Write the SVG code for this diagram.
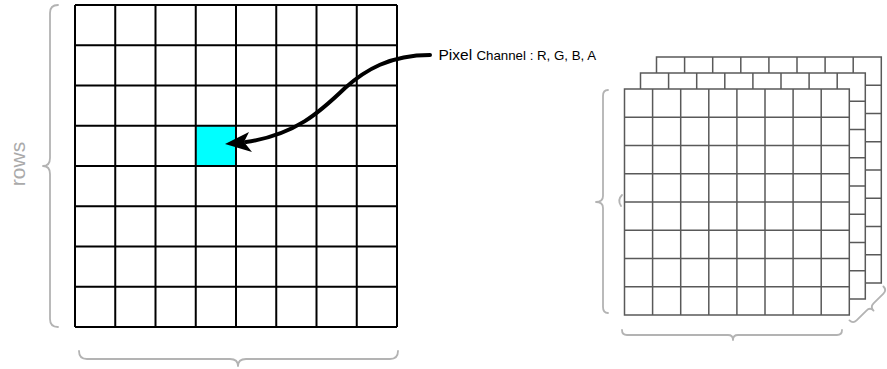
<svg xmlns="http://www.w3.org/2000/svg" width="887" height="369" viewBox="0 0 887 369">
<style>
.grid{fill:none;stroke:#000;stroke-width:2}
.sgrid{fill:#fff;stroke:#595959;stroke-width:1.5}
.brace{fill:none;stroke:#b3b3b3;stroke-width:1.8;stroke-linecap:round;stroke-linejoin:round}
.lbl{font-family:"Liberation Sans",Arial,sans-serif;fill:#000}
</style>
<rect width="887" height="369" fill="#fff"/>
<g id="pixel-grid">
<rect x="195.75" y="125.75" width="40.25" height="40.25" fill="#00ffff"/>
<path class="grid" d="M75,5V327M115.25,5V327M155.5,5V327M195.75,5V327M236,5V327M276.25,5V327M316.5,5V327M356.75,5V327M397,5V327M75,5H397M75,45.25H397M75,85.5H397M75,125.75H397M75,166H397M75,206.25H397M75,246.5H397M75,286.75H397M75,327H397"/>
</g>
<g id="rows-brace">
<path class="brace" d="M58,5Q50,5 50,13V158Q50,166 43,166Q50,166 50,174V319Q50,327 58,327"/>
<text transform="translate(25,164) rotate(-90)" text-anchor="middle" font-family="Liberation Sans, Arial, sans-serif" font-size="21" fill="#aaa">rows</text>
</g>
<g id="cols-brace">
<path class="brace" d="M79,351Q79,359 87,359H230Q238,359 238,366Q238,359 246,359H390Q398,359 398,351"/>
</g>
<g id="pixel-label">
<text class="lbl" x="438.5" y="60" font-size="15.5">Pixel <tspan font-size="13.3">Channel : R, G, B, A</tspan></text>
</g>
<g id="channel-stack">
<g id="channel-3">
<rect class="sgrid" x="656.5" y="57" width="224.8" height="226"/>
<path class="sgrid" fill="none" d="M684.6,57V283M712.7,57V283M740.8,57V283M768.9,57V283M797,57V283M825.1,57V283M853.2,57V283M656.5,85.25H881.3M656.5,113.5H881.3M656.5,141.75H881.3M656.5,170H881.3M656.5,198.25H881.3M656.5,226.5H881.3M656.5,254.75H881.3"/>
</g>
<g id="channel-2">
<rect class="sgrid" x="640.5" y="73" width="224.8" height="226"/>
<path class="sgrid" fill="none" d="M668.6,73V299M696.7,73V299M724.8,73V299M752.9,73V299M781,73V299M809.1,73V299M837.2,73V299M640.5,101.25H865.3M640.5,129.5H865.3M640.5,157.75H865.3M640.5,186H865.3M640.5,214.25H865.3M640.5,242.5H865.3M640.5,270.75H865.3"/>
</g>
<g id="channel-1">
<rect class="sgrid" x="624.5" y="89" width="224.8" height="226"/>
<path class="sgrid" fill="none" d="M652.6,89V315M680.7,89V315M708.8,89V315M736.9,89V315M765,89V315M793.1,89V315M821.2,89V315M624.5,117.25H849.3M624.5,145.5H849.3M624.5,173.75H849.3M624.5,202H849.3M624.5,230.25H849.3M624.5,258.5H849.3M624.5,286.75H849.3"/>
</g>
</g>
<g id="stack-braces">
<path class="brace" d="M608,90Q603,90 603,96V196Q603,202 596,202Q603,202 603,208V307Q603,313 608,313"/>
<path class="brace" d="M622,195Q617,200 621,206"/>
<path class="brace" d="M622,330Q622,335 627,335H728Q733,335 733,340Q733,335 738,335H837Q842,335 842,330"/>
<path class="brace" transform="translate(870,307) rotate(-45)" d="M-24,-5Q-24,0 -19,0H-5Q0,0 0,5Q0,0 5,0H19Q24,0 24,-5"/>
</g>
<g id="connectors">
<path d="M430,55C390,55 365,70 345,88C320,112 295,135 246,142" fill="none" stroke="#000" stroke-width="4" stroke-linecap="round"/>
<polygon points="225,144 249,132 244,142 252,152" fill="#000"/>
</g>
</svg>
